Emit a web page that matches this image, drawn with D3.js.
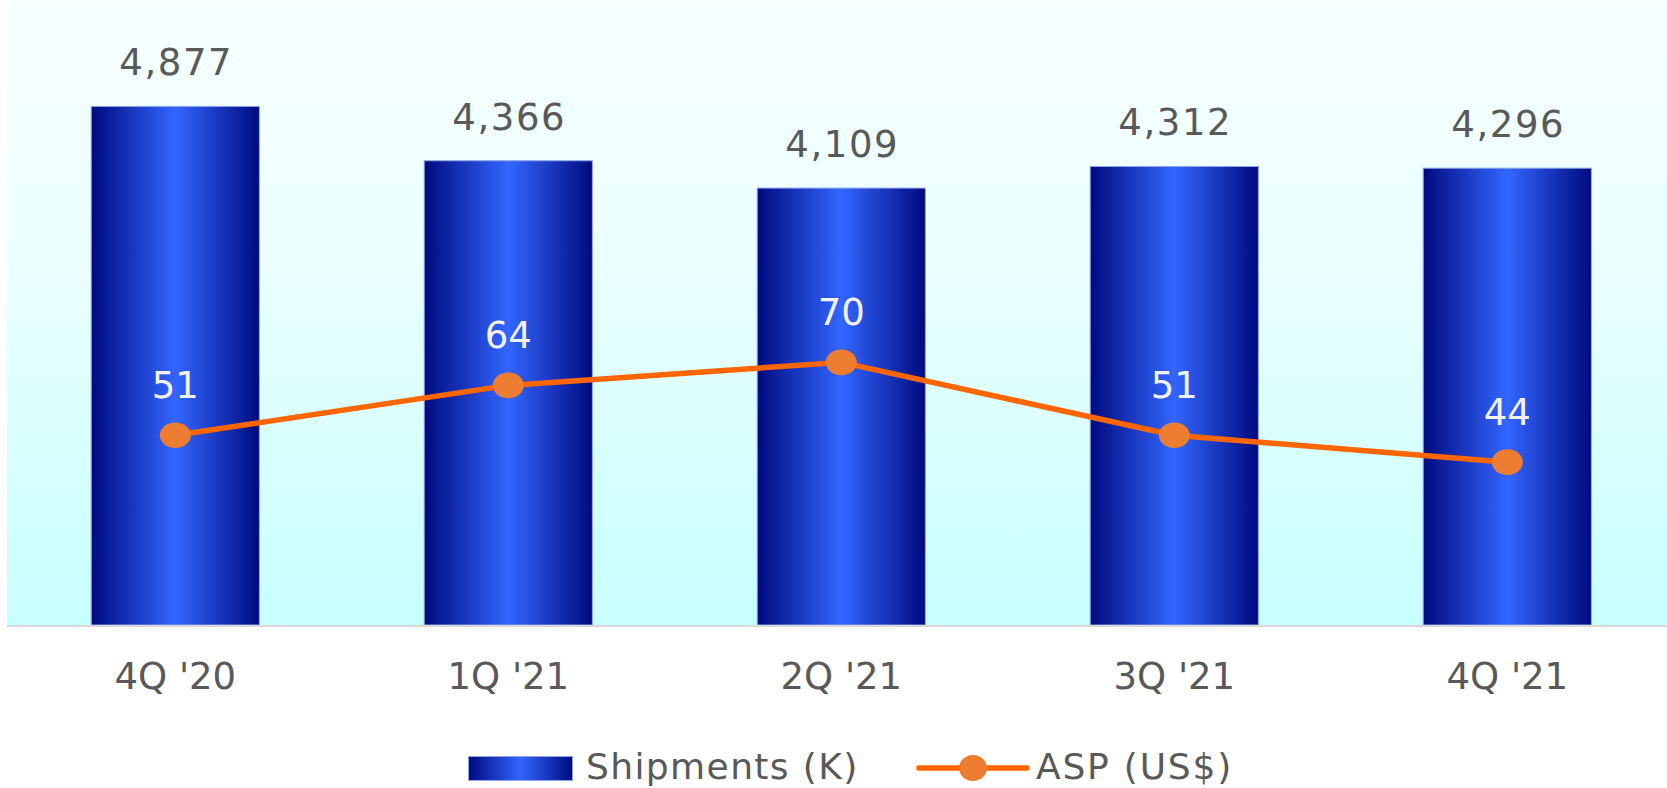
<!DOCTYPE html>
<html>
<head>
<meta charset="utf-8">
<script src="https://cdn.jsdelivr.net/npm/d3@7.9.0/dist/d3.min.js"></script>
<style>
  html, body { margin: 0; padding: 0; background: #fff; }
  svg { display: block; font-family: "DejaVu Sans", sans-serif; }
</style>
</head>
<body>
<svg width="1667" height="788"></svg>
<script>
const quarters = ["4Q '20", "1Q '21", "2Q '21", "3Q '21", "4Q '21"];
const shipments = [4877, 4366, 4109, 4312, 4296];
const asp = [51, 64, 70, 51, 44];
const seriesNames = ["Shipments (K)", "ASP (US$)"];

const svg = d3.select("svg");
const W = 1667;
const plot = { left: 7, right: W, top: 0, bottom: 625 };

// gradients
const defs = svg.append("defs");
let bg = defs.append("linearGradient").attr("id", "bg")
  .attr("x1", 0).attr("y1", 0).attr("x2", 0).attr("y2", 1);
bg.append("stop").attr("offset", "0%").attr("stop-color", "#f7ffff");
bg.append("stop").attr("offset", "40%").attr("stop-color", "#ecffff");
bg.append("stop").attr("offset", "100%").attr("stop-color", "#c8ffff");

let barGrad = defs.append("linearGradient").attr("id", "barGrad")
  .attr("x1", 0).attr("y1", 0).attr("x2", 1).attr("y2", 0);
barGrad.append("stop").attr("offset", "0%").attr("stop-color", "#000a80");
barGrad.append("stop").attr("offset", "50%").attr("stop-color", "#3366ff");
barGrad.append("stop").attr("offset", "100%").attr("stop-color", "#000a80");

svg.append("rect")
  .attr("x", plot.left).attr("y", plot.top)
  .attr("width", plot.right - plot.left).attr("height", plot.bottom - plot.top)
  .attr("fill", "url(#bg)");

const x = d3.scaleBand()
  .domain(quarters)
  .range([8.8, 1673.8])
  .paddingInner(0.495)
  .paddingOuter(0.2475);

const y = d3.scaleLinear().domain([0, 6000]).range([plot.bottom, -13]);
const y2 = d3.scaleLinear().domain([0, 160]).range([631, 17]);

// bars
svg.append("g").selectAll("rect")
  .data(quarters)
  .join("rect")
  .attr("x", d => x(d))
  .attr("y", (d, i) => y(shipments[i]))
  .attr("width", x.bandwidth())
  .attr("height", (d, i) => y(0) - y(shipments[i]))
  .attr("fill", "url(#barGrad)")
  .attr("stroke", "#8fa6e6")
  .attr("stroke-width", 1);

// axis line
svg.append("line")
  .attr("x1", plot.left).attr("x2", plot.right)
  .attr("y1", plot.bottom + 1).attr("y2", plot.bottom + 1)
  .attr("stroke", "#d9d9d9").attr("stroke-width", 2);

// category labels
svg.append("g").selectAll("text")
  .data(quarters)
  .join("text")
  .attr("x", d => x(d) + x.bandwidth() / 2)
  .attr("y", 689)
  .attr("text-anchor", "middle")
  .attr("font-size", 37)
  .attr("fill", "#595959")
  .text(d => d);

// bar value labels
svg.append("g").selectAll("text")
  .data(shipments)
  .join("text")
  .attr("x", (d, i) => x(quarters[i]) + x.bandwidth() / 2 + 1)
  .attr("y", d => y(d) - 31)
  .attr("text-anchor", "middle")
  .attr("font-size", 37)
  .attr("letter-spacing", 1.6)
  .attr("fill", "#595959")
  .text(d => d3.format(",")(d));

// ASP line
const line = d3.line()
  .x((d, i) => x(quarters[i]) + x.bandwidth() / 2)
  .y(d => y2(d));

svg.append("path")
  .datum(asp)
  .attr("d", line)
  .attr("fill", "none")
  .attr("stroke", "#ff6600")
  .attr("stroke-width", 5.5)
  .attr("stroke-linejoin", "round");

svg.append("g").selectAll("ellipse")
  .data(asp)
  .join("ellipse")
  .attr("cx", (d, i) => x(quarters[i]) + x.bandwidth() / 2)
  .attr("cy", d => y2(d))
  .attr("rx", 15.5)
  .attr("ry", 12.8)
  .attr("fill", "#ed7d31");

svg.append("g").selectAll("text")
  .data(asp)
  .join("text")
  .attr("x", (d, i) => x(quarters[i]) + x.bandwidth() / 2)
  .attr("y", d => y2(d) - 37)
  .attr("text-anchor", "middle")
  .attr("font-size", 37)
  .attr("fill", "#f2f2f2")
  .text(d => d);

// legend
const legend = svg.append("g");
legend.append("rect")
  .attr("x", 468.5).attr("y", 756.5).attr("width", 104).attr("height", 24)
  .attr("fill", "url(#barGrad)").attr("stroke", "#8fa6e6").attr("stroke-width", 1);
legend.append("text")
  .attr("x", 586).attr("y", 779)
  .attr("font-size", 36).attr("letter-spacing", 1.4).attr("fill", "#595959")
  .text(seriesNames[0]);
legend.append("line")
  .attr("x1", 919).attr("x2", 1027).attr("y1", 768).attr("y2", 768)
  .attr("stroke", "#ff6600").attr("stroke-width", 5.5).attr("stroke-linecap", "round");
legend.append("ellipse")
  .attr("cx", 973).attr("cy", 768).attr("rx", 14).attr("ry", 13)
  .attr("fill", "#ed7d31");
legend.append("text")
  .attr("x", 1036).attr("y", 779)
  .attr("font-size", 36).attr("letter-spacing", 1.8).attr("fill", "#595959")
  .text(seriesNames[1]);
</script>
</body>
</html>
